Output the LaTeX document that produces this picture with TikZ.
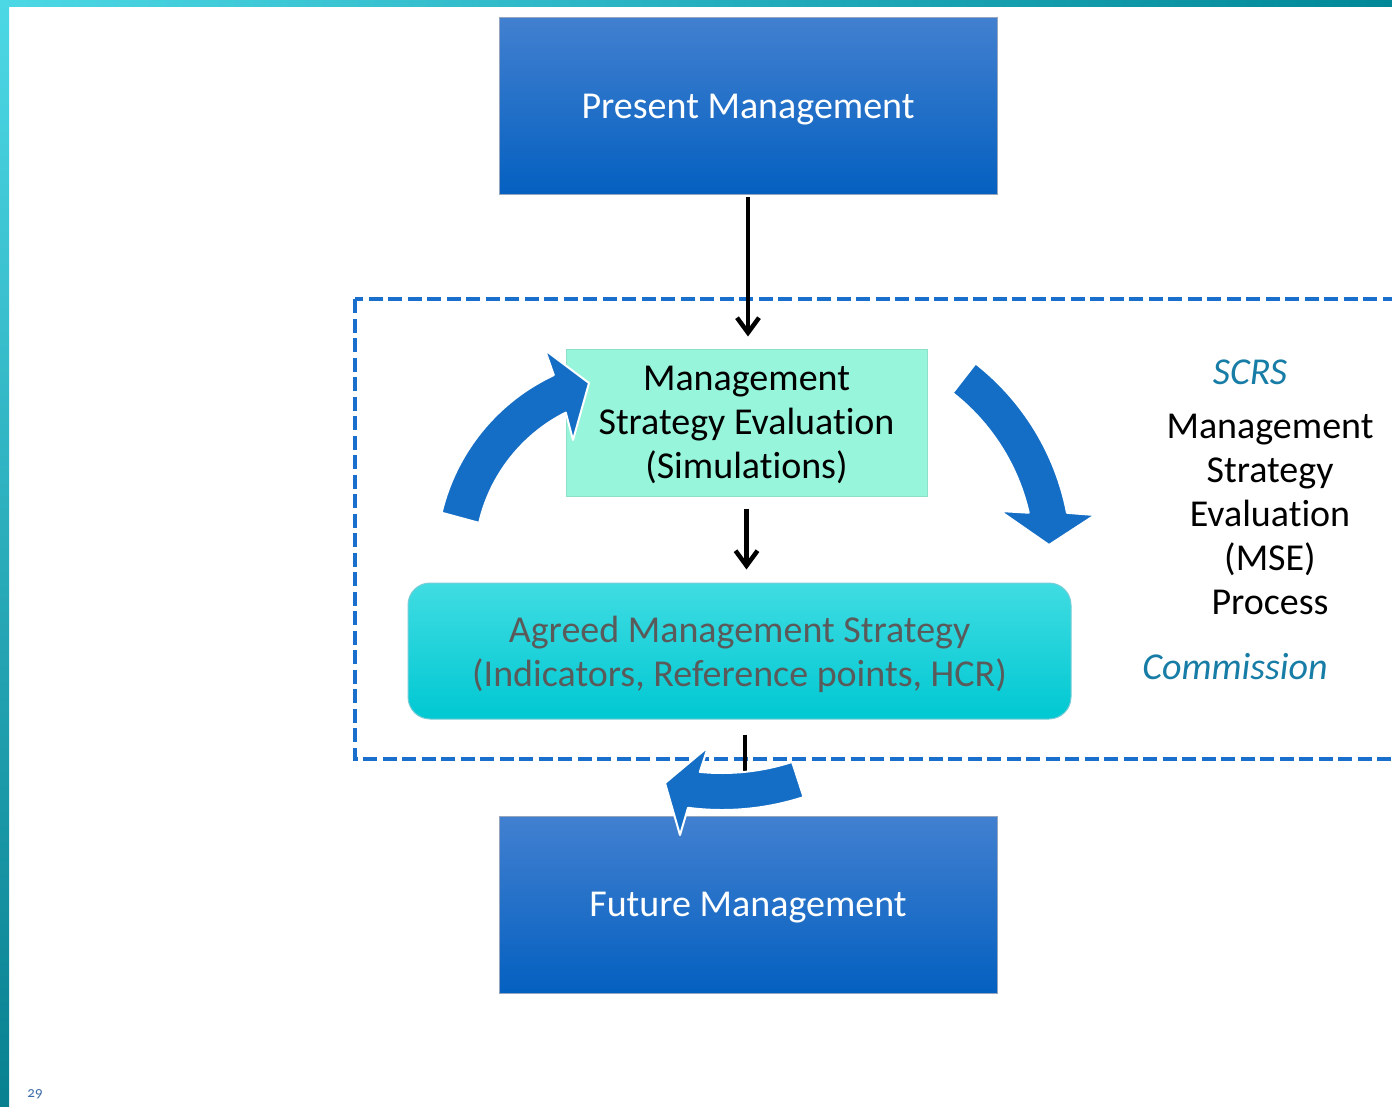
\documentclass[tikz,border=0pt]{standalone}
\usepackage{fontspec}
\setmainfont{Carlito}[Ligatures=CommonOff]
\usetikzlibrary{arrows.meta, positioning}
\definecolor{boxtop}{RGB}{66,128,208}
\definecolor{boxmid}{RGB}{8,108,208}
\definecolor{boxbot}{RGB}{4,96,192}
\definecolor{boxline}{RGB}{150,165,190}
\definecolor{mint}{RGB}{150,245,218}
\definecolor{mintline}{RGB}{140,225,200}
\definecolor{aqtop}{RGB}{64,220,226}
\definecolor{aqmid}{RGB}{0,214,224}
\definecolor{aqbot}{RGB}{0,200,210}
\definecolor{aqline}{RGB}{120,205,215}
\definecolor{dashblue}{RGB}{26,110,204}
\definecolor{bendblue}{RGB}{20,110,198}
\definecolor{scrsteal}{RGB}{23,125,166}
\definecolor{bartop}{RGB}{77,216,230}
\definecolor{barbot}{RGB}{8,128,144}
\definecolor{barright}{RGB}{0,136,152}
\definecolor{greytext}{RGB}{90,90,90}
\definecolor{pagenum}{RGB}{62,110,168}

\begin{document}
\begin{tikzpicture}[x=1pt, y=-1pt, on grid,
  every node/.style={font=\fontsize{38}{44}\selectfont, align=center, text depth=0pt},
  mgmt/.style={draw=boxline, line width=1pt, top color=boxtop, middle color=boxmid,
    bottom color=boxbot, minimum width=498pt, minimum height=177pt, text=white},
  msebox/.style={draw=mintline, line width=1pt, fill=mint, minimum width=361pt,
    minimum height=147pt},
  agreed/.style={draw=aqline, line width=1pt, rounded corners=22pt, top color=aqtop,
    middle color=aqmid, bottom color=aqbot, minimum width=663pt, minimum height=136pt,
    text=greytext},
  note/.style={text=scrsteal, font=\fontsize{38}{44}\selectfont\itshape},
  arr/.style={line width=4.5pt, -{Straight Barb[length=15pt,width=22pt]}},
  bendarrow/.style={fill=bendblue, draw=white, line width=2pt, line join=round},
  msedash/.style={draw=dashblue, line width=4pt, dash pattern=on 14pt off 5.5pt}]
  \useasboundingbox (0,0) rectangle (1392,1106);
  \clip (0,0) rectangle (1392,1106);
  \fill[white] (0,0) rectangle (1392,1106);
  \shade[top color=bartop, bottom color=barbot] (0,0) rectangle (9,1106);
  \shade[left color=bartop, right color=barright] (0,0) rectangle (1392,6);

  \draw[msedash] (355,299) rectangle (1420,759);

  \node[mgmt] (present) at (748,106) {Present Management};
  \node[msebox] (mse) [below=316.5pt of present, xshift=-1.5pt] {Management\\Strategy Evaluation\\(Simulations)};
  \node[agreed] (agreed) [below=228.5pt of mse, xshift=-7pt] {Agreed Management Strategy\\(Indicators, Reference points, HCR)};
  \node[mgmt] (future) [below=798.5pt of present] {Future Management};

  \node (process) at (1270,514) {Management\\Strategy\\Evaluation\\(MSE)\\Process};
  \node[note] (scrs) at (1250,372) {SCRS};
  \node[note] (commission) at (1235,666) {Commission};
  \node[font=\fontsize{15}{17}\selectfont\addfontfeatures{Numbers=OldStyle}, text=pagenum] (page) at (35,1093) {29};

  \draw[arr, shorten <=2pt, shorten >=12pt] (present.south) -- (present.south |- mse.north);
  \draw[arr, shorten <=12pt, shorten >=13pt] (mse.south) -- (mse.south |- agreed.north);
  \coordinate (join) at (745,772);
  \draw[line width=4.5pt, shorten <=15pt] (join |- agreed.south) -- (join);

  \draw[bendarrow] (441.6,512.7) arc[start angle=-166.6, end angle=-115, radius=204]
    -- (545,350) -- (589,383) -- (573,440) -- (565.8,412.6)
    arc[start angle=-116.7, end angle=-167, radius=165] -- cycle;
  \draw[bendarrow] (975.6,363.4) arc[start angle=-52, end angle=-10.9, radius=249.5]
    -- (1095,515) -- (1049,545) -- (1000,511) -- (1028.7,512.7)
    arc[start angle=-12.9, end angle=-52, radius=212] -- cycle;
  \draw[bendarrow] (792.1,761.9) arc[start angle=72, end angle=95.6, radius=227]
    -- (708,747) -- (665,783) -- (680,835) -- (688,807.8)
    arc[start angle=97.4, end angle=72, radius=264] -- cycle;
\end{tikzpicture}
\end{document}
